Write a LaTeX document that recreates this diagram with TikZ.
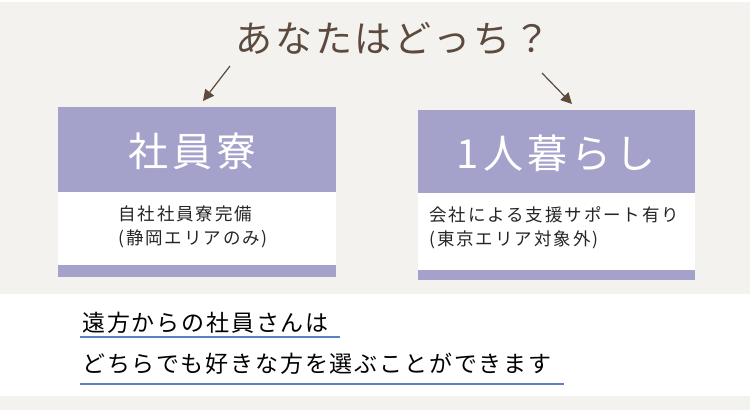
\documentclass[tikz,border=0pt]{standalone}
\usepackage{fontspec}
\setmainfont{Noto Sans CJK JP}
\newfontfamily\jp{Noto Sans CJK JP}
\newfontfamily\jptitle[LetterSpace=7]{Noto Sans CJK JP}
\newfontfamily\jphdr[LetterSpace=10]{Noto Sans CJK JP}
\newfontfamily\jpbody[LetterSpace=11]{Noto Sans CJK JP}
\newfontfamily\jpbot[LetterSpace=8]{Noto Sans CJK JP}
\usetikzlibrary{arrows.meta}
\definecolor{bg}{HTML}{F4F2EE}
\definecolor{hdr}{HTML}{A4A2CB}
\definecolor{brn}{HTML}{5C4A3E}
\definecolor{uline}{HTML}{5B80C6}
\tikzset{
  hdrtxt/.style={text=white,font=\jphdr\fontsize{40}{42}\selectfont,anchor=center},
  bodytxt/.style={text=black!85,font=\jpbody\fontsize{17.5}{24}\selectfont,anchor=north west,align=left,inner sep=0pt},
  bottxt/.style={text=black,font=\jpbot\fontsize{23}{24}\selectfont,anchor=base west,inner sep=0pt},
  arr/.style={draw=brn,line width=1.2pt,-{Triangle[length=11pt,width=11pt]}},
}
\begin{document}
\begin{tikzpicture}[x=1pt,y=-1pt]
\useasboundingbox (0,0) rectangle (750,410);
\fill[bg] (0,0) rectangle (750,410);
\fill[white] (0,0) rectangle (750,2);
\fill[white] (0,294) rectangle (750,396);
% title
\node[text=brn,font=\jptitle\fontsize{37}{40}\selectfont] (title) at (393,39) {あなたはどっち？};
% left box
\fill[hdr] (58,107) rectangle (336,192);
\fill[white] (58,192) rectangle (336,265);
\fill[hdr] (58,265) rectangle (336,277);
\node[hdrtxt] (h1) at (192,151) {社員寮};
\node[bodytxt] (b1) at (118,206) {自社社員寮完備\\(静岡エリアのみ)};
% right box
\fill[hdr] (418,110) rectangle (695,193);
\fill[white] (418,193) rectangle (695,270);
\fill[hdr] (418,270) rectangle (695,280);
\node[hdrtxt] (h2) at (556,153) {1人暮らし};
\node[bodytxt] (b2) at (429,206) {会社による支援サポート有り\\(東京エリア対象外)};
% arrows
\coordinate (a1s) at (230,66);
\coordinate (a1e) at (203,101);
\coordinate (a2s) at (542,73);
\coordinate (a2e) at (572,104);
\draw[arr] (a1s) -- (a1e);
\draw[arr] (a2s) -- (a2e);
% bottom text
\node[bottxt] (t1) at (82,331) {遠方からの社員さんは};
\node[bottxt] (t2) at (82,372) {どちらでも好きな方を選ぶことができます};
\draw[uline,line width=1.8pt] (80,337) -- (340,337);
\draw[uline,line width=1.8pt] (80,384) -- (564,384);
\end{tikzpicture}
\end{document}
